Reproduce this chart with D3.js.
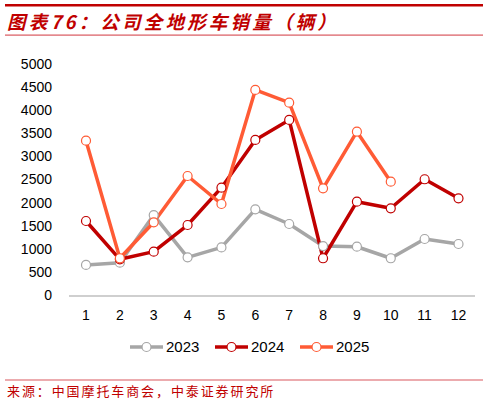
<!DOCTYPE html>
<html>
<head>
<meta charset="utf-8">
<script src="https://cdn.jsdelivr.net/npm/d3@7/dist/d3.min.js"></script>
<style>
  body { margin: 0; background: #fff; }
  svg { display: block; }
</style>
</head>
<body>
<svg id="chart"></svg>
<script>
'use strict';

// months on the x axis
var months = [1, 2, 3, 4, 5, 6, 7, 8, 9, 10, 11, 12];
var yTicks = [0, 500, 1000, 1500, 2000, 2500, 3000, 3500, 4000, 4500, 5000];

// sales (units)
var sales2023 = [650, 700, 1730, 815, 1030, 1855, 1537, 1060, 1045, 795, 1212, 1104];
var sales2024 = [1602, 773, 938, 1515, 2323, 3356, 3789, 795, 2020, 1877, 2505, 2093];
var sales2025 = [3340, 795, 1574, 2576, 1970, 4438, 4163, 2310, 3535, 2453];

var seriesNames = ['2023', '2024', '2025'];
var seriesColors = ['#A6A6A6', '#C00000', '#FF5B35'];

var svgWidth = 488, svgHeight = 403;
var svg = d3.select('#chart')
    .attr('width', svgWidth)
    .attr('height', svgHeight);

// header
svg.append('rect')
    .attr('x', 5).attr('y', 4).attr('width', 478).attr('height', 2.5)
    .attr('fill', '#C00000');
svg.append('text')
    .attr('x', 7).attr('y', 29)
    .attr('fill', '#C00000')
    .attr('font-family', '"Noto Sans CJK SC", sans-serif')
    .attr('font-size', 18.5)
    .attr('font-weight', 'bold')
    .attr('font-style', 'italic')
    .attr('letter-spacing', 3.2)
    .text('图表76：公司全地形车销量（辆）');
svg.append('rect')
    .attr('x', 5).attr('y', 34.5).attr('width', 478).attr('height', 1.2)
    .attr('fill', '#D9585E');

// footer
svg.append('rect')
    .attr('x', 5).attr('y', 379.5).attr('width', 478).attr('height', 1)
    .attr('fill', '#D9585E');
svg.append('text')
    .attr('x', 7).attr('y', 396)
    .attr('fill', '#C00000')
    .attr('font-family', '"Noto Sans CJK SC", sans-serif')
    .attr('font-size', 13)
    .attr('letter-spacing', 1.9)
    .text('来源：中国摩托车商会，中泰证券研究所');

var x = d3.scalePoint().domain(months).range([86, 458.5]);
var y = d3.scaleLinear().domain([0, 5000]).range([295, 64]);

var g = svg.append('g');

// x axis
g.append('line')
    .attr('x1', 69).attr('x2', 475)
    .attr('y1', y(0) + 1).attr('y2', y(0) + 1)
    .attr('stroke', '#BFBFBF').attr('stroke-width', 1.5);

g.selectAll('.xlab')
    .data(months)
    .enter().append('text')
    .attr('class', 'xlab')
    .attr('x', function(d) { return x(d); })
    .attr('y', 320)
    .attr('text-anchor', 'middle')
    .attr('font-family', '"Liberation Sans", Arial, sans-serif')
    .attr('font-size', 14)
    .attr('fill', '#000')
    .text(function(d) { return d; });

g.selectAll('.ylab')
    .data(yTicks)
    .enter().append('text')
    .attr('class', 'ylab')
    .attr('x', 52)
    .attr('y', function(d) { return y(d); })
    .attr('dy', '0.35em')
    .attr('text-anchor', 'end')
    .attr('font-family', '"Liberation Sans", Arial, sans-serif')
    .attr('font-size', 14)
    .attr('fill', '#000')
    .text(function(d) { return d; });

var line = d3.line()
    .x(function(d, i) { return x(months[i]); })
    .y(function(d) { return y(d); });

var allSeries = [sales2023, sales2024, sales2025];

allSeries.forEach(function(data, k) {
    g.append('path')
        .datum(data)
        .attr('fill', 'none')
        .attr('stroke', seriesColors[k])
        .attr('stroke-width', 3.5)
        .attr('stroke-linejoin', 'round')
        .attr('d', line);
});

allSeries.forEach(function(data, k) {
    g.selectAll('.pt' + k)
        .data(data)
        .enter().append('circle')
        .attr('class', 'pt' + k)
        .attr('cx', function(d, i) { return x(months[i]); })
        .attr('cy', function(d) { return y(d); })
        .attr('r', 4.5)
        .attr('fill', '#fff')
        .attr('stroke', seriesColors[k])
        .attr('stroke-width', 1.2);
});

// legend
var legendX = [130, 215, 300];
var legend = svg.selectAll('.legend')
    .data(seriesNames)
    .enter().append('g')
    .attr('class', 'legend')
    .attr('transform', function(d, i) { return 'translate(' + legendX[i] + ',347)'; });

legend.append('line')
    .attr('x1', 0).attr('x2', 33)
    .attr('stroke', function(d, i) { return seriesColors[i]; })
    .attr('stroke-width', 3.5);
legend.append('circle')
    .attr('cx', 16.5).attr('r', 4.5)
    .attr('fill', '#fff')
    .attr('stroke', function(d, i) { return seriesColors[i]; })
    .attr('stroke-width', 1.2);
legend.append('text')
    .attr('x', 36)
    .attr('dy', '0.35em')
    .attr('font-family', '"Liberation Sans", Arial, sans-serif')
    .attr('font-size', 15)
    .attr('fill', '#000')
    .text(function(d) { return d; });
</script>
</body>
</html>
